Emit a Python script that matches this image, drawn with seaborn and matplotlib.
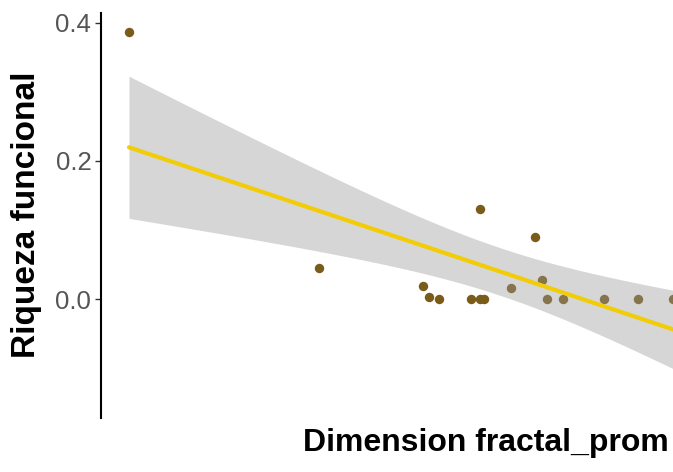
import numpy as np
import pandas as pd
import matplotlib
matplotlib.use("Agg")
import matplotlib.pyplot as plt
import seaborn as sns

# Mean fractal dimension of each site and its functional richness
dimension_fractal = [1.250, 1.440, 1.544, 1.550, 1.560, 1.592, 1.601, 1.601,
                     1.605, 1.632, 1.656, 1.663, 1.668, 1.684, 1.725, 1.759,
                     1.794, 1.861]
riqueza_funcional = [0.387, 0.045, 0.019, 0.004, 0.000, 0.000, 0.130, 0.000,
                     0.000, 0.017, 0.090, 0.028, 0.000, 0.000, 0.000, 0.000,
                     0.000, 0.000]

y_ticks = [0.0, 0.2, 0.4]
y_tick_labels = ["0.0", "0.2", "0.4"]

df = pd.DataFrame({"x": dimension_fractal, "y": riqueza_funcional})

sns.set_theme(style="white")
plt.rcParams["font.family"] = ["Liberation Sans", "DejaVu Sans"]

W, H = 673, 472
fig = plt.figure(figsize=(W / 100, H / 100), dpi=100)
# panel runs past the right edge of the canvas
ax = fig.add_axes([101 / W, 54 / H, 670 / W, 405 / H])

point_col = "#7a5c1a"
sns.scatterplot(data=df, x="x", y="y", color=point_col, s=46,
                linewidth=0, ax=ax, zorder=2, clip_on=True)

# ordinary least squares fit with 95% confidence band
x = df["x"].to_numpy()
y = df["y"].to_numpy()
n = len(x)
slope, intercept = np.polyfit(x, y, 1)
resid = y - (intercept + slope * x)
s = np.sqrt(np.sum(resid ** 2) / (n - 2))
sxx = np.sum((x - x.mean()) ** 2)
t975 = 2.120  # Student t, 97.5% quantile, 16 degrees of freedom
grid = np.linspace(x.min(), x.max(), 80)
fit = intercept + slope * grid
half = t975 * s * np.sqrt(1 / n + (grid - x.mean()) ** 2 / sxx)

ax.fill_between(grid, fit - half, fit + half, color="#999999", alpha=0.4,
                linewidth=0, zorder=3)
sns.lineplot(x=grid, y=fit, color="#f2cd06", linewidth=3, ax=ax, zorder=4)

ax.set_xlim(1.222, 1.892)
ax.set_ylim(-0.1717, 0.414)
ax.set_yticks(y_ticks)
ax.set_yticklabels(y_tick_labels)
ax.set_xticks([])
ax.set_xlabel("")
ax.set_ylabel("")

for side in ["top", "right", "bottom"]:
    ax.spines[side].set_visible(False)
ax.spines["left"].set_color("black")
ax.spines["left"].set_linewidth(1.5)

ax.tick_params(axis="y", which="major", left=True, length=4, width=1.0,
               color="#333333", labelsize=18.5, labelcolor="#555555", pad=3)

fig.text(27 / W, 1 - 215 / H, "Riqueza funcional", rotation=90,
         fontsize=24, fontweight="bold", color="black",
         ha="center", va="center")
fig.text(486 / W, 1 - 443 / H, "Dimension fractal_prom",
         fontsize=23, fontweight="bold", color="black",
         ha="center", va="center")

fig.savefig("out.png", dpi=100, facecolor="white")
